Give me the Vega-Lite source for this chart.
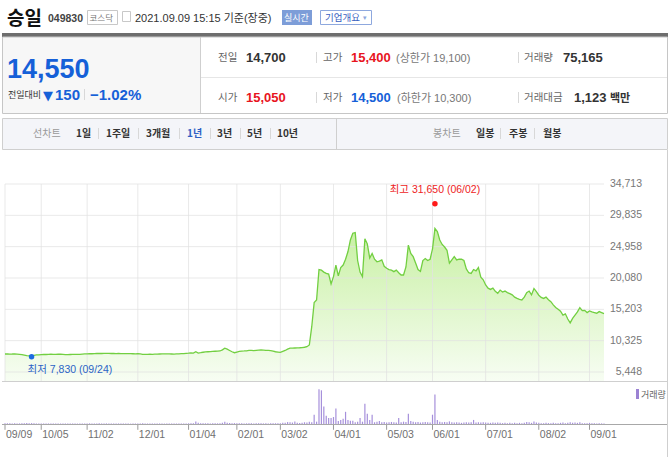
{
"$schema": "https://vega.github.io/schema/vega-lite/v6.json",
"width": 670, "height": 457, "padding": 0, "autosize": "none",
"background": "#ffffff",
"config": {"view": {"stroke": null}},
"datasets": {
"stock": [
{"d":"2020-09-09","p":8250,"v":150},{"d":"2020-09-10","p":8270,"v":120},{"d":"2020-09-11","p":8230,"v":110},{"d":"2020-09-14","p":8250,"v":100},{"d":"2020-09-15","p":8280,"v":130},{"d":"2020-09-16","p":8240,"v":90},{"d":"2020-09-17","p":8200,"v":100},{"d":"2020-09-18","p":8150,"v":110},{"d":"2020-09-21","p":8080,"v":140},{"d":"2020-09-22","p":7980,"v":160},{"d":"2020-09-23","p":7950,"v":120},{"d":"2020-09-24","p":7990,"v":150},{"d":"2020-09-25","p":8050,"v":110},{"d":"2020-09-28","p":8100,"v":90},{"d":"2020-09-29","p":8120,"v":80},
{"d":"2020-10-05","p":8150,"v":90},{"d":"2020-10-06","p":8180,"v":100},{"d":"2020-10-07","p":8170,"v":80},{"d":"2020-10-08","p":8200,"v":90},{"d":"2020-10-12","p":8220,"v":100},{"d":"2020-10-13","p":8180,"v":80},{"d":"2020-10-14","p":8200,"v":70},{"d":"2020-10-15","p":8230,"v":90},{"d":"2020-10-16","p":8210,"v":80},{"d":"2020-10-19","p":8190,"v":70},{"d":"2020-10-20","p":8160,"v":80},{"d":"2020-10-21","p":8150,"v":90},{"d":"2020-10-22","p":8170,"v":70},{"d":"2020-10-23","p":8190,"v":80},{"d":"2020-10-26","p":8200,"v":90},{"d":"2020-10-27","p":8180,"v":70},{"d":"2020-10-28","p":8200,"v":80},{"d":"2020-10-29","p":8230,"v":90},{"d":"2020-10-30","p":8260,"v":100},
{"d":"2020-11-02","p":8280,"v":90},{"d":"2020-11-03","p":8300,"v":110},{"d":"2020-11-04","p":8290,"v":80},{"d":"2020-11-05","p":8310,"v":90},{"d":"2020-11-06","p":8330,"v":100},{"d":"2020-11-09","p":8340,"v":110},{"d":"2020-11-10","p":8330,"v":80},{"d":"2020-11-11","p":8350,"v":90},{"d":"2020-11-12","p":8360,"v":100},{"d":"2020-11-13","p":8340,"v":80},{"d":"2020-11-16","p":8330,"v":70},{"d":"2020-11-17","p":8340,"v":80},{"d":"2020-11-18","p":8320,"v":70},{"d":"2020-11-19","p":8330,"v":90},{"d":"2020-11-20","p":8310,"v":80},{"d":"2020-11-23","p":8320,"v":70},{"d":"2020-11-24","p":8300,"v":80},{"d":"2020-11-25","p":8310,"v":70},{"d":"2020-11-26","p":8300,"v":60},{"d":"2020-11-27","p":8290,"v":70},{"d":"2020-11-30","p":8280,"v":80},
{"d":"2020-12-01","p":8300,"v":90},{"d":"2020-12-02","p":8260,"v":80},{"d":"2020-12-03","p":8200,"v":110},{"d":"2020-12-04","p":8180,"v":90},{"d":"2020-12-07","p":8190,"v":80},{"d":"2020-12-08","p":8210,"v":70},{"d":"2020-12-09","p":8200,"v":80},{"d":"2020-12-10","p":8220,"v":70},{"d":"2020-12-11","p":8240,"v":80},{"d":"2020-12-14","p":8250,"v":90},{"d":"2020-12-15","p":8260,"v":80},{"d":"2020-12-16","p":8280,"v":70},{"d":"2020-12-17","p":8270,"v":80},{"d":"2020-12-18","p":8260,"v":70},{"d":"2020-12-21","p":8250,"v":80},{"d":"2020-12-22","p":8240,"v":70},{"d":"2020-12-23","p":8260,"v":80},{"d":"2020-12-24","p":8280,"v":90},{"d":"2020-12-28","p":8300,"v":80},{"d":"2020-12-29","p":8310,"v":70},{"d":"2020-12-30","p":8350,"v":90},
{"d":"2021-01-04","p":8380,"v":120},{"d":"2021-01-05","p":8420,"v":110},{"d":"2021-01-06","p":8380,"v":130},{"d":"2021-01-07","p":8600,"v":450},{"d":"2021-01-08","p":8400,"v":200},{"d":"2021-01-11","p":8450,"v":150},{"d":"2021-01-12","p":8520,"v":130},{"d":"2021-01-13","p":8580,"v":120},{"d":"2021-01-14","p":8600,"v":110},{"d":"2021-01-15","p":8620,"v":100},{"d":"2021-01-18","p":8650,"v":110},{"d":"2021-01-19","p":8680,"v":120},{"d":"2021-01-20","p":8700,"v":110},{"d":"2021-01-21","p":8720,"v":130},{"d":"2021-01-22","p":8900,"v":200},{"d":"2021-01-25","p":9150,"v":400},{"d":"2021-01-26","p":9000,"v":220},{"d":"2021-01-27","p":8800,"v":160},{"d":"2021-01-28","p":8600,"v":140},{"d":"2021-01-29","p":8450,"v":150},
{"d":"2021-02-01","p":8550,"v":130},{"d":"2021-02-02","p":8650,"v":120},{"d":"2021-02-03","p":8700,"v":110},{"d":"2021-02-04","p":8720,"v":100},{"d":"2021-02-05","p":8750,"v":110},{"d":"2021-02-08","p":8800,"v":120},{"d":"2021-02-09","p":8800,"v":110},{"d":"2021-02-10","p":8780,"v":100},{"d":"2021-02-15","p":8820,"v":110},{"d":"2021-02-16","p":8850,"v":120},{"d":"2021-02-17","p":8870,"v":110},{"d":"2021-02-18","p":8850,"v":100},{"d":"2021-02-19","p":8800,"v":110},{"d":"2021-02-22","p":8820,"v":100},{"d":"2021-02-23","p":8760,"v":110},{"d":"2021-02-24","p":8700,"v":120},{"d":"2021-02-25","p":8600,"v":130},{"d":"2021-02-26","p":8550,"v":120},
{"d":"2021-03-02","p":8500,"v":130},{"d":"2021-03-03","p":8650,"v":200},{"d":"2021-03-04","p":8800,"v":220},{"d":"2021-03-05","p":9000,"v":330},{"d":"2021-03-08","p":9150,"v":300},{"d":"2021-03-09","p":9150,"v":250},{"d":"2021-03-10","p":9180,"v":450},{"d":"2021-03-11","p":9200,"v":220},{"d":"2021-03-12","p":9220,"v":180},{"d":"2021-03-15","p":9250,"v":200},{"d":"2021-03-16","p":9300,"v":300},{"d":"2021-03-17","p":9380,"v":250},{"d":"2021-03-18","p":9650,"v":400},{"d":"2021-03-19","p":12500,"v":300},{"d":"2021-03-22","p":16250,"v":1600},{"d":"2021-03-23","p":16650,"v":400},{"d":"2021-03-24","p":21400,"v":6000},{"d":"2021-03-25","p":21300,"v":5800},{"d":"2021-03-26","p":21000,"v":3000},{"d":"2021-03-29","p":20800,"v":1400},{"d":"2021-03-30","p":20700,"v":1050},{"d":"2021-03-31","p":19150,"v":1050},
{"d":"2021-04-01","p":20300,"v":1200},{"d":"2021-04-02","p":22100,"v":2650},{"d":"2021-04-05","p":20400,"v":500},{"d":"2021-04-06","p":21700,"v":700},{"d":"2021-04-07","p":22100,"v":900},{"d":"2021-04-08","p":23000,"v":2100},{"d":"2021-04-09","p":24200,"v":700},{"d":"2021-04-12","p":26000,"v":550},{"d":"2021-04-13","p":27050,"v":550},{"d":"2021-04-14","p":27150,"v":300},{"d":"2021-04-15","p":22800,"v":400},{"d":"2021-04-16","p":21000,"v":1050},{"d":"2021-04-19","p":20300,"v":400},{"d":"2021-04-20","p":26200,"v":3500},{"d":"2021-04-21","p":25400,"v":1750},{"d":"2021-04-22","p":23200,"v":700},{"d":"2021-04-23","p":23900,"v":1600},{"d":"2021-04-26","p":23000,"v":300},{"d":"2021-04-27","p":22600,"v":400},{"d":"2021-04-28","p":22700,"v":500},{"d":"2021-04-29","p":22900,"v":300},{"d":"2021-04-30","p":21900,"v":350},
{"d":"2021-05-03","p":21600,"v":250},{"d":"2021-05-04","p":21400,"v":300},{"d":"2021-05-06","p":21300,"v":350},{"d":"2021-05-07","p":21065,"v":300},{"d":"2021-05-10","p":21300,"v":250},{"d":"2021-05-11","p":20900,"v":1050},{"d":"2021-05-12","p":20550,"v":300},{"d":"2021-05-13","p":20550,"v":400},{"d":"2021-05-14","p":21800,"v":350},{"d":"2021-05-17","p":25200,"v":1750},{"d":"2021-05-18","p":23900,"v":500},{"d":"2021-05-20","p":23400,"v":400},{"d":"2021-05-21","p":22400,"v":300},{"d":"2021-05-24","p":21400,"v":350},{"d":"2021-05-25","p":21100,"v":250},{"d":"2021-05-26","p":22800,"v":300},{"d":"2021-05-27","p":23100,"v":350},{"d":"2021-05-28","p":22800,"v":300},{"d":"2021-05-31","p":23000,"v":250},
{"d":"2021-06-01","p":24600,"v":1600},{"d":"2021-06-02","p":27800,"v":5100},{"d":"2021-06-03","p":27300,"v":700},{"d":"2021-06-04","p":26000,"v":400},{"d":"2021-06-07","p":25300,"v":300},{"d":"2021-06-08","p":24900,"v":350},{"d":"2021-06-09","p":24400,"v":300},{"d":"2021-06-10","p":22400,"v":450},{"d":"2021-06-11","p":22900,"v":300},{"d":"2021-06-14","p":23400,"v":250},{"d":"2021-06-15","p":22900,"v":300},{"d":"2021-06-16","p":23000,"v":250},{"d":"2021-06-17","p":23000,"v":200},{"d":"2021-06-18","p":22800,"v":250},{"d":"2021-06-21","p":21500,"v":300},{"d":"2021-06-22","p":20900,"v":250},{"d":"2021-06-23","p":20800,"v":300},{"d":"2021-06-24","p":21400,"v":700},{"d":"2021-06-25","p":21200,"v":250},{"d":"2021-06-28","p":21700,"v":300},{"d":"2021-06-29","p":20200,"v":250},{"d":"2021-06-30","p":19800,"v":300},
{"d":"2021-07-01","p":19000,"v":250},{"d":"2021-07-02","p":18500,"v":200},{"d":"2021-07-05","p":18300,"v":200},{"d":"2021-07-06","p":18500,"v":250},{"d":"2021-07-07","p":18000,"v":200},{"d":"2021-07-08","p":17700,"v":250},{"d":"2021-07-09","p":18200,"v":200},{"d":"2021-07-12","p":17900,"v":150},{"d":"2021-07-13","p":18050,"v":200},{"d":"2021-07-14","p":17800,"v":150},{"d":"2021-07-15","p":17650,"v":200},{"d":"2021-07-16","p":17450,"v":150},{"d":"2021-07-19","p":17100,"v":200},{"d":"2021-07-20","p":16900,"v":150},{"d":"2021-07-21","p":16770,"v":200},{"d":"2021-07-22","p":16650,"v":150},{"d":"2021-07-23","p":17100,"v":200},{"d":"2021-07-26","p":17800,"v":350},{"d":"2021-07-27","p":18050,"v":300},{"d":"2021-07-28","p":17450,"v":200},{"d":"2021-07-29","p":18450,"v":450},{"d":"2021-07-30","p":17950,"v":250},
{"d":"2021-08-02","p":17400,"v":200},{"d":"2021-08-03","p":17050,"v":150},{"d":"2021-08-04","p":16900,"v":150},{"d":"2021-08-05","p":17100,"v":200},{"d":"2021-08-06","p":16700,"v":150},{"d":"2021-08-09","p":16400,"v":150},{"d":"2021-08-10","p":15900,"v":200},{"d":"2021-08-11","p":15500,"v":150},{"d":"2021-08-12","p":15200,"v":150},{"d":"2021-08-13","p":14900,"v":200},{"d":"2021-08-17","p":14300,"v":250},{"d":"2021-08-18","p":14500,"v":150},{"d":"2021-08-19","p":13700,"v":200},{"d":"2021-08-20","p":13100,"v":300},{"d":"2021-08-23","p":13800,"v":200},{"d":"2021-08-24","p":14300,"v":250},{"d":"2021-08-25","p":14800,"v":200},{"d":"2021-08-26","p":15450,"v":300},{"d":"2021-08-27","p":15000,"v":150},{"d":"2021-08-30","p":15050,"v":150},{"d":"2021-08-31","p":14700,"v":150},
{"d":"2021-09-01","p":14950,"v":200},{"d":"2021-09-02","p":14800,"v":150},{"d":"2021-09-03","p":14700,"v":150},{"d":"2021-09-06","p":14600,"v":100},{"d":"2021-09-07","p":14850,"v":150},{"d":"2021-09-08","p":14700,"v":100},{"d":"2021-09-09","p":14550,"v":75}
],
"xticks": [{"d":"2020-09-09","label":"09/09"},{"d":"2020-10-05","label":"10/05"},{"d":"2020-11-02","label":"11/02"},{"d":"2020-12-01","label":"12/01"},{"d":"2021-01-04","label":"01/04"},{"d":"2021-02-01","label":"02/01"},{"d":"2021-03-02","label":"03/02"},{"d":"2021-04-01","label":"04/01"},{"d":"2021-05-03","label":"05/03"},{"d":"2021-06-01","label":"06/01"},{"d":"2021-07-01","label":"07/01"},{"d":"2021-08-02","label":"08/02"},{"d":"2021-09-01","label":"09/01"}],
"yticks": [{"v":34713,"label":"34,713"},{"v":29835,"label":"29,835"},{"v":24958,"label":"24,958"},{"v":20080,"label":"20,080"},{"v":15203,"label":"15,203"},{"v":10325,"label":"10,325"},{"v":5448,"label":"5,448"}],
"extremes": [{"d":"2021-06-02","p":31650,"t":"최고 31,650 (06/02)","k":"high"},{"d":"2020-09-24","p":7830,"t":"최저 7,830 (09/24)","k":"low"}],
"fill_panel": [{"x":2,"x2":200,"y":37,"y2":113}],
"fill_dark": [{"x":2,"x2":668,"y":33,"y2":37}],
"fill_tab": [{"x":2.5,"x2":667.5,"y":118.5,"y2":149.5}],
"fill_live": [{"x":282,"x2":312,"y":10,"y2":25}],
"box_gray": [{"x":87.5,"x2":117.5,"y":10.5,"y2":24.5},{"x":122.5,"x2":130.5,"y":11.5,"y2":21.5}],
"box_blue": [{"x":320.5,"x2":371.5,"y":10.5,"y2":24.5}],
"frame": [{"x":2.5,"x2":667.5,"y":37,"y2":113.5}],
"swatch": [{"x":636,"x2":639,"y":389,"y2":399}],
"lines_div": [{"x":200.5,"x2":200.5,"y":37,"y2":113},{"x":336.5,"x2":336.5,"y":119,"y2":149},{"x":2,"x2":667,"y":381.5,"y2":381.5},{"x":667.5,"x2":667.5,"y":150,"y2":457}],
"lines_light": [{"x":201,"x2":667,"y":77.5,"y2":77.5}],
"lines_axis": [{"x":2,"x2":667,"y":424.5,"y2":424.5}],
"pipes": [{"x":84.5,"x2":84.5,"y":89,"y2":100},{"x":316.5,"x2":316.5,"y":52,"y2":63},{"x":518.5,"x2":518.5,"y":52,"y2":63},{"x":316.5,"x2":316.5,"y":92,"y2":103},{"x":518.5,"x2":518.5,"y":92,"y2":103},{"x":98.5,"x2":98.5,"y":128,"y2":139},{"x":138.5,"x2":138.5,"y":128,"y2":139},{"x":179.5,"x2":179.5,"y":128,"y2":139},{"x":210.5,"x2":210.5,"y":128,"y2":139},{"x":240.5,"x2":240.5,"y":128,"y2":139},{"x":270.5,"x2":270.5,"y":128,"y2":139},{"x":500.5,"x2":500.5,"y":128,"y2":139},{"x":534.5,"x2":534.5,"y":128,"y2":139}],
"t_title": [{"x":7,"y":25,"t":"승일"}],
"t_code": [{"x":48,"y":22,"t":"049830"}],
"t_market": [{"x":89.5,"y":21,"t":"코스닥"}],
"t_date": [{"x":135,"y":21.5,"t":"2021.09.09 15:15 기준(장중)"}],
"t_live": [{"x":284,"y":21,"t":"실시간"}],
"t_btn": [{"x":325,"y":21,"t":"기업개요"}],
"t_caret": [{"x":363,"y":20,"t":"▾"}],
"t_big": [{"x":7,"y":78,"t":"14,550","k":"down"}],
"t_cmp": [{"x":8,"y":98,"t":"전일대비"}],
"t_tri": [{"x":43,"y":100,"t":"▼","k":"down"}],
"t_chg": [{"x":55,"y":100,"t":"150","k":"down"},{"x":90,"y":100,"t":"−1.02%","k":"down"}],
"t_lbl": [{"x":218,"y":61,"t":"전일"},{"x":323,"y":61,"t":"고가"},{"x":524,"y":61,"t":"거래량"},{"x":218,"y":101,"t":"시가"},{"x":323,"y":101,"t":"저가"},{"x":524,"y":101,"t":"거래대금"}],
"t_num": [{"x":246,"y":62,"t":"14,700","k":"flat"},{"x":351,"y":62,"t":"15,400","k":"up"},{"x":563,"y":62,"t":"75,165","k":"flat"},{"x":246,"y":102,"t":"15,050","k":"up"},{"x":351,"y":102,"t":"14,500","k":"down"},{"x":574,"y":102,"t":"1,123","k":"flat"}],
"t_paren": [{"x":396,"y":61.5,"t":"(상한가 19,100)"},{"x":397,"y":101.5,"t":"(하한가 10,300)"}],
"t_unit": [{"x":610,"y":101.5,"t":"백만"}],
"t_tabgray": [{"x":33,"y":137,"t":"선차트"},{"x":433,"y":137,"t":"봉차트"}],
"t_tab": [{"x":76,"y":137,"t":"1일","k":"flat"},{"x":106,"y":137,"t":"1주일","k":"flat"},{"x":146,"y":137,"t":"3개월","k":"flat"},{"x":187,"y":137,"t":"1년","k":"sel"},{"x":217,"y":137,"t":"3년","k":"flat"},{"x":247,"y":137,"t":"5년","k":"flat"},{"x":277,"y":137,"t":"10년","k":"flat"},{"x":476,"y":137,"t":"일봉","k":"flat"},{"x":509,"y":137,"t":"주봉","k":"flat"},{"x":543,"y":137,"t":"월봉","k":"flat"}],
"t_legend": [{"x":641,"y":398,"t":"거래량"}]
},
"resolve": {"scale": {"x": "independent", "y": "independent"}},
"layer": [
{
"encoding": {
"x": {"field": "x", "type": "quantitative", "scale": {"domain": [0, 670], "range": [0, 670], "nice": false, "zero": false}, "axis": null},
"y": {"field": "y", "type": "quantitative", "scale": {"domain": [0, 457], "range": [0, 457], "nice": false, "zero": false}, "axis": null}
},
"layer": [
{"data": {"name": "fill_panel"}, "mark": {"type": "rect", "fill": "#f7f7f7"}, "encoding": {"x2": {"field": "x2"}, "y2": {"field": "y2"}}},
{"data": {"name": "fill_dark"}, "mark": {"type": "rect", "fill": "#6e6e6e"}, "encoding": {"x2": {"field": "x2"}, "y2": {"field": "y2"}}},
{"data": {"name": "fill_tab"}, "mark": {"type": "rect", "fill": "#f4f5f9", "stroke": "#cfcfcf", "strokeWidth": 1}, "encoding": {"x2": {"field": "x2"}, "y2": {"field": "y2"}}},
{"data": {"name": "fill_live"}, "mark": {"type": "rect", "fill": "#7d9dd8"}, "encoding": {"x2": {"field": "x2"}, "y2": {"field": "y2"}}},
{"data": {"name": "box_gray"}, "mark": {"type": "rect", "fill": "#ffffff", "stroke": "#c8c8c8", "strokeWidth": 1}, "encoding": {"x2": {"field": "x2"}, "y2": {"field": "y2"}}},
{"data": {"name": "box_blue"}, "mark": {"type": "rect", "fill": "#ffffff", "stroke": "#8ea8de", "strokeWidth": 1}, "encoding": {"x2": {"field": "x2"}, "y2": {"field": "y2"}}},
{"data": {"name": "frame"}, "mark": {"type": "rect", "fill": null, "fillOpacity": 0, "stroke": "#c6c6c6", "strokeWidth": 1}, "encoding": {"x2": {"field": "x2"}, "y2": {"field": "y2"}}}
]
},
{
"data": {"name": "stock"},
"encoding": {
"x": {"field": "d", "type": "ordinal", "scale": {"type": "point", "range": [5, 604], "padding": 0}, "axis": null}
},
"layer": [
{"mark": {"type": "area", "line": false, "color": {"gradient": "linear", "x1": 0, "y1": 0, "x2": 0, "y2": 1, "stops": [{"offset": 0, "color": "#c8f0a3"}, {"offset": 1, "color": "#f7fdf3"}]}}, "encoding": {"y": {"field": "p", "type": "quantitative", "scale": {"domain": [4046, 34713], "range": [381, 184], "nice": false, "zero": false}, "axis": null}, "y2": {"datum": 4046}}},
{"data": {"name": "xticks"}, "mark": {"type": "rule", "color": "#e2e2e2", "strokeWidth": 1, "opacity": 0.75}, "encoding": {"y": {"datum": 34713, "type": "quantitative", "scale": {"domain": [4046, 34713], "range": [381, 184], "nice": false, "zero": false}, "axis": null}, "y2": {"datum": 4046}}},
{"data": {"name": "yticks"}, "mark": {"type": "rule", "color": "#e2e2e2", "strokeWidth": 1, "opacity": 0.75}, "encoding": {"x": {"datum": "2020-09-09", "type": "ordinal"}, "x2": {"datum": "2021-09-09"}, "y": {"field": "v", "type": "quantitative", "scale": {"domain": [4046, 34713], "range": [381, 184], "nice": false, "zero": false}, "axis": null}}},
{"mark": {"type": "line", "color": "#72cf41", "strokeWidth": 1.3}, "encoding": {"y": {"field": "p", "type": "quantitative", "scale": {"domain": [4046, 34713], "range": [381, 184], "nice": false, "zero": false}, "axis": null}}},
{"data": {"name": "yticks"}, "mark": {"type": "text", "align": "right", "baseline": "middle", "dx": 38, "font": "Liberation Sans", "fontSize": 10.5, "color": "#777777"}, "encoding": {"x": {"datum": "2021-09-09", "type": "ordinal"}, "y": {"field": "v", "type": "quantitative", "scale": {"domain": [4046, 34713], "range": [381, 184], "nice": false, "zero": false}, "axis": null}, "text": {"field": "label"}}},
{"data": {"name": "extremes"}, "transform": [{"filter": "datum.k == 'high'"}], "mark": {"type": "circle", "color": "#ff1a1a", "size": 30, "opacity": 1}, "encoding": {"y": {"field": "p", "type": "quantitative", "scale": {"domain": [4046, 34713], "range": [381, 184], "nice": false, "zero": false}, "axis": null}}},
{"data": {"name": "extremes"}, "transform": [{"filter": "datum.k == 'high'"}], "mark": {"type": "text", "align": "center", "baseline": "middle", "dy": -14, "font": "Liberation Sans, Noto Sans CJK KR", "fontSize": 10.5, "color": "#ee1c24"}, "encoding": {"y": {"field": "p", "type": "quantitative", "scale": {"domain": [4046, 34713], "range": [381, 184], "nice": false, "zero": false}, "axis": null}, "text": {"field": "t"}}},
{"data": {"name": "extremes"}, "transform": [{"filter": "datum.k == 'low'"}], "mark": {"type": "circle", "color": "#1c6be0", "size": 30, "opacity": 1}, "encoding": {"y": {"field": "p", "type": "quantitative", "scale": {"domain": [4046, 34713], "range": [381, 184], "nice": false, "zero": false}, "axis": null}}},
{"data": {"name": "extremes"}, "transform": [{"filter": "datum.k == 'low'"}], "mark": {"type": "text", "align": "left", "baseline": "middle", "dx": -4, "dy": 13, "font": "Liberation Sans, Noto Sans CJK KR", "fontSize": 10.5, "color": "#2b64c6"}, "encoding": {"y": {"field": "p", "type": "quantitative", "scale": {"domain": [4046, 34713], "range": [381, 184], "nice": false, "zero": false}, "axis": null}, "text": {"field": "t"}}}
]
},
{
"data": {"name": "stock"},
"encoding": {
"x": {"field": "d", "type": "ordinal", "scale": {"type": "point", "range": [5, 604], "padding": 0}, "axis": null}
},
"layer": [
{"mark": {"type": "rule", "color": "#a690db", "strokeWidth": 1.2}, "encoding": {"y": {"field": "v", "type": "quantitative", "scale": {"domain": [0, 6200], "range": [424, 388], "nice": false, "zero": false}, "axis": null}, "y2": {"datum": 0}}},
{"data": {"name": "xticks"}, "mark": {"type": "rule", "color": "#9a9a9a", "strokeWidth": 1}, "encoding": {"y": {"datum": 0, "type": "quantitative", "scale": {"domain": [0, 6200], "range": [424, 388], "nice": false, "zero": false}, "axis": null}, "y2": {"datum": -1000}}},
{"data": {"name": "xticks"}, "mark": {"type": "text", "align": "left", "baseline": "middle", "dx": 1, "dy": 11, "font": "Liberation Sans", "fontSize": 10.5, "color": "#707070"}, "encoding": {"y": {"datum": 0, "type": "quantitative", "scale": {"domain": [0, 6200], "range": [424, 388], "nice": false, "zero": false}, "axis": null}, "text": {"field": "label"}}}
]
},
{
"encoding": {
"x": {"field": "x", "type": "quantitative", "scale": {"domain": [0, 670], "range": [0, 670], "nice": false, "zero": false}, "axis": null},
"y": {"field": "y", "type": "quantitative", "scale": {"domain": [0, 457], "range": [0, 457], "nice": false, "zero": false}, "axis": null}
},
"layer": [
{"data": {"name": "lines_div"}, "mark": {"type": "rule", "color": "#cfcfcf", "strokeWidth": 1}, "encoding": {"x2": {"field": "x2"}, "y2": {"field": "y2"}}},
{"data": {"name": "lines_light"}, "mark": {"type": "rule", "color": "#e6e6e6", "strokeWidth": 1}, "encoding": {"x2": {"field": "x2"}, "y2": {"field": "y2"}}},
{"data": {"name": "lines_axis"}, "mark": {"type": "rule", "color": "#a8a8a8", "strokeWidth": 1}, "encoding": {"x2": {"field": "x2"}, "y2": {"field": "y2"}}},
{"data": {"name": "pipes"}, "mark": {"type": "rule", "color": "#d8d8d8", "strokeWidth": 1}, "encoding": {"x2": {"field": "x2"}, "y2": {"field": "y2"}}},
{"data": {"name": "swatch"}, "mark": {"type": "rect", "fill": "#9b82d3"}, "encoding": {"x2": {"field": "x2"}, "y2": {"field": "y2"}}},
{"data": {"name": "t_title"}, "mark": {"type": "text", "align": "left", "baseline": "alphabetic", "font": "Noto Sans CJK KR", "fontSize": 19, "fontWeight": "bold", "color": "#111111"}, "encoding": {"text": {"field": "t"}}},
{"data": {"name": "t_code"}, "mark": {"type": "text", "align": "left", "baseline": "alphabetic", "font": "Liberation Sans", "fontSize": 10.5, "fontWeight": "bold", "color": "#444444"}, "encoding": {"text": {"field": "t"}}},
{"data": {"name": "t_market"}, "mark": {"type": "text", "align": "left", "baseline": "alphabetic", "font": "Noto Sans CJK KR", "fontSize": 8.5, "color": "#777777"}, "encoding": {"text": {"field": "t"}}},
{"data": {"name": "t_date"}, "mark": {"type": "text", "align": "left", "baseline": "alphabetic", "font": "Liberation Sans, Noto Sans CJK KR", "fontSize": 11, "color": "#333333"}, "encoding": {"text": {"field": "t"}}},
{"data": {"name": "t_live"}, "mark": {"type": "text", "align": "left", "baseline": "alphabetic", "font": "Noto Sans CJK KR", "fontSize": 9, "color": "#ffffff"}, "encoding": {"text": {"field": "t"}}},
{"data": {"name": "t_btn"}, "mark": {"type": "text", "align": "left", "baseline": "alphabetic", "font": "Noto Sans CJK KR", "fontSize": 9.5, "color": "#3a5fbf"}, "encoding": {"text": {"field": "t"}}},
{"data": {"name": "t_caret"}, "mark": {"type": "text", "align": "left", "baseline": "alphabetic", "font": "DejaVu Sans", "fontSize": 7, "color": "#8ea8de"}, "encoding": {"text": {"field": "t"}}},
{"data": {"name": "t_big"}, "mark": {"type": "text", "align": "left", "baseline": "alphabetic", "font": "Liberation Sans", "fontSize": 27, "fontWeight": "bold"}, "encoding": {"text": {"field": "t"}, "color": {"field": "k", "type": "nominal", "scale": {"domain": ["up", "down", "flat", "sel"], "range": ["#e8141e", "#1560d8", "#333333", "#2d5fc4"]}, "legend": null}}},
{"data": {"name": "t_cmp"}, "mark": {"type": "text", "align": "left", "baseline": "alphabetic", "font": "Noto Sans CJK KR", "fontSize": 9, "color": "#333333"}, "encoding": {"text": {"field": "t"}}},
{"data": {"name": "t_tri"}, "mark": {"type": "text", "align": "left", "baseline": "alphabetic", "font": "DejaVu Sans", "fontSize": 13}, "encoding": {"text": {"field": "t"}, "color": {"field": "k", "type": "nominal", "scale": {"domain": ["up", "down", "flat", "sel"], "range": ["#e8141e", "#1560d8", "#333333", "#2d5fc4"]}, "legend": null}}},
{"data": {"name": "t_chg"}, "mark": {"type": "text", "align": "left", "baseline": "alphabetic", "font": "Liberation Sans", "fontSize": 15, "fontWeight": "bold"}, "encoding": {"text": {"field": "t"}, "color": {"field": "k", "type": "nominal", "scale": {"domain": ["up", "down", "flat", "sel"], "range": ["#e8141e", "#1560d8", "#333333", "#2d5fc4"]}, "legend": null}}},
{"data": {"name": "t_lbl"}, "mark": {"type": "text", "align": "left", "baseline": "alphabetic", "font": "Noto Sans CJK KR", "fontSize": 10.5, "color": "#666666"}, "encoding": {"text": {"field": "t"}}},
{"data": {"name": "t_num"}, "mark": {"type": "text", "align": "left", "baseline": "alphabetic", "font": "Liberation Sans", "fontSize": 13, "fontWeight": "bold"}, "encoding": {"text": {"field": "t"}, "color": {"field": "k", "type": "nominal", "scale": {"domain": ["up", "down", "flat", "sel"], "range": ["#e8141e", "#1560d8", "#333333", "#2d5fc4"]}, "legend": null}}},
{"data": {"name": "t_paren"}, "mark": {"type": "text", "align": "left", "baseline": "alphabetic", "font": "Liberation Sans, Noto Sans CJK KR", "fontSize": 11, "color": "#777777"}, "encoding": {"text": {"field": "t"}}},
{"data": {"name": "t_unit"}, "mark": {"type": "text", "align": "left", "baseline": "alphabetic", "font": "Noto Sans CJK KR", "fontSize": 11, "fontWeight": "bold", "color": "#333333"}, "encoding": {"text": {"field": "t"}}},
{"data": {"name": "t_tabgray"}, "mark": {"type": "text", "align": "left", "baseline": "alphabetic", "font": "Noto Sans CJK KR", "fontSize": 10, "color": "#999999"}, "encoding": {"text": {"field": "t"}}},
{"data": {"name": "t_tab"}, "mark": {"type": "text", "align": "left", "baseline": "alphabetic", "font": "Noto Sans CJK KR", "fontSize": 10, "fontWeight": "bold"}, "encoding": {"text": {"field": "t"}, "color": {"field": "k", "type": "nominal", "scale": {"domain": ["up", "down", "flat", "sel"], "range": ["#e8141e", "#1560d8", "#333333", "#2d5fc4"]}, "legend": null}}},
{"data": {"name": "t_legend"}, "mark": {"type": "text", "align": "left", "baseline": "alphabetic", "font": "Noto Sans CJK KR", "fontSize": 9, "color": "#666666"}, "encoding": {"text": {"field": "t"}}}
]
}
]
}
